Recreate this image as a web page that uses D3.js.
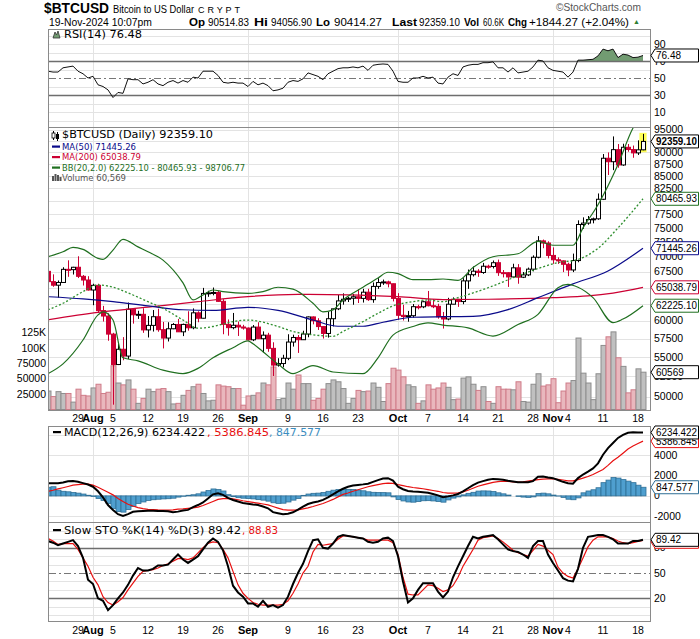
<!DOCTYPE html>
<html><head><meta charset="utf-8">
<script src="https://cdn.jsdelivr.net/npm/d3@7"></script>
<style>
html,body{margin:0;padding:0;background:#fff;}
svg{display:block;}
text{font-family:"Liberation Sans",Arial,sans-serif;}
.lg{font-family:"DejaVu Sans",Verdana,sans-serif;}
</style></head><body>
<svg id="c" width="700" height="639"></svg>
<script>
// ---------------- DATA ----------------
const startDate = "2024-07-23";
const open = [67580,65930,65370,65800,67910,67860,68250,66780,66190,64620,
65350,61500,60700,58120,54020,56040,55130,61710,60880,60950,
58710,59350,60600,58740,57570,58870,59480,58440,59490,59010,
61170,60380,64090,64180,64240,62880,59500,59030,59370,59120,
58970,57330,59110,57480,57970,56160,53950,54150,54840,57020,
57650,57340,58130,60570,60010,59180,58210,60310,61760,62950,
63200,63350,63580,63330,64280,63140,65180,65790,65890,65600,
63330,60810,60630,60750,62080,62060,62820,62220,62130,60580,
60270,62450,63190,62850,66050,67040,67610,67400,68420,68370,
69000,67370,67360,66680,68160,66640,67010,67940,69910,72720,
72340,70220,69490,69310,68740,67810,69360,75640,75900,76550,
76680,80370,88700,87960,90550,87280,91070,90580,89850,90514.83];
const high = [67800,67100,66120,68250,69400,68320,70080,66990,66800,65600,
65600,62200,61100,58300,57000,57700,62700,61800,61470,61850,
60700,61580,61780,59850,59800,59680,60270,59600,61400,61820,
61400,64950,64500,65000,64480,63210,60200,61150,59900,59430,
59050,59400,59800,58500,58300,56990,54850,55300,58100,58040,
57990,58590,60640,60640,60380,59210,61300,61780,63850,64100,
63550,63990,64750,64800,64800,65800,66480,66260,66080,65620,
64130,62370,61450,62480,62370,62970,64470,63200,62520,61300,
63420,63480,63270,66480,67880,68380,67940,68970,68670,69370,
69520,67800,67430,68830,68770,67480,68200,70230,73560,72950,
72650,71590,69900,69380,69000,70530,76400,76950,77200,76900,
81500,89600,89950,93480,91780,91850,91800,91450,92600,94056.90];
const low = [65450,65120,63440,65760,66700,67070,66500,65320,64530,62300,
61200,59900,57200,49050,53950,54580,54730,59600,60280,58300,
57650,58480,58450,56150,57100,58810,58430,57840,58600,58800,
59800,60350,63570,63800,62830,58100,57900,58800,57860,58750,
57220,57150,57430,55600,55700,52550,53750,53650,54590,56400,
55550,57320,57680,59500,58700,57500,57630,59200,61570,62380,
62780,62370,62630,62700,62950,62670,64800,65420,65030,62870,
60170,60050,59880,60460,61680,61860,62130,61860,60320,58900,
60080,62450,62050,62450,64800,66750,66700,67180,68000,68050,
66850,66600,65100,66500,65600,66500,66820,67580,69730,71450,
69720,68820,68800,67460,66800,67460,69080,74850,75600,75850,
76490,80220,85200,86200,86700,87100,90100,88800,89400,90414.27];
const close = [65930,65370,65800,67910,67860,68250,66780,66190,64620,65350,
61500,60700,58120,54020,56040,55130,61710,60880,60950,58710,
59350,60600,58740,57570,58870,59480,58440,59490,59010,61170,
60380,64090,64180,64240,62880,59500,59030,59370,59120,58970,
57330,59110,57480,57970,56160,53950,54150,54840,57020,57650,
57340,58130,60570,60010,59180,58210,60310,61760,62950,63200,
63350,63580,63330,64280,63140,65180,65790,65890,65600,63330,
60810,60630,60750,62080,62060,62820,62220,62130,60580,60270,
62450,63190,62850,66050,67040,67610,67400,68420,68370,69000,
67370,67360,66680,68160,66640,67010,67940,69910,72720,72340,
70220,69490,69310,68740,67810,69360,75640,75900,76550,76680,
80370,88700,87960,90550,87280,91070,90580,89850,90514.83,92359.10];
const volume = [30000,21000,29000,26000,26000,12000,33000,23000,22000,35000,
41000,26000,28000,71000,43000,40000,48000,33000,10000,18000,
33000,29000,33000,34000,29000,9000,10000,23000,31000,37000,
41000,26000,14000,15000,40000,38000,37000,34000,34000,7000,
22000,23000,27000,43000,40000,69000,16000,18000,43000,33000,
56000,42000,42000,15000,18000,33000,42000,48000,45000,34000,
10000,18000,31000,29000,30000,43000,36000,13000,42000,67000,
64000,53000,40000,37000,10000,14000,40000,33000,35000,43000,
36000,16000,17000,51000,53000,41000,31000,37000,13000,10000,
37000,33000,33000,32000,45000,13000,12000,41000,58000,38000,
40000,50000,11000,30000,43000,47000,116000,59000,43000,16000,
58000,104000,118000,126000,84000,70000,27000,32000,66000,60569];
const rsi = [58,57,57,62,63,64,58,55,50,52,42,
40,36,27,33,32,49,48,48,43,45,
48,43,41,45,47,44,47,45,51,50,
58,58,58,53,45,44,45,44,44,40,
46,42,44,41,35,36,38,45,47,46,
49,56,54,52,48,55,58,61,62,62,
63,62,64,59,65,66,66.5,66,58,46,
45,45,50,50,52,50,51,44,43,51,
55,53,63,65,66,66,68,68,69,62,
62,57,62,56,57,58,63,71,70,62,
59,58,57,51,57,71,71,71.5,72,76,
84,82,84,74,78,77,74,74.5,76.48];
const macd = [1230,1250,1250,1320,1430,1470,1380,1250,1120,900,450,
-150,-900,-1400,-1800,-1970,-1800,-1560,-1520,-1490,-1470,
-1470,-1480,-1480,-1520,-1600,-1550,-1450,-1380,-1100,-900,
-650,-250,150,260,100,-200,-400,-550,-700,-780,
-850,-900,-1050,-1220,-1600,-1700,-1800,-1750,-1620,-1350,
-1050,-800,-650,-550,-400,-150,150,450,700,900,
1020,1080,1130,1200,1380,1550,1700,1740,1500,900,
650,480,420,400,360,300,180,50,-130,-50,
50,180,450,750,1050,1300,1450,1580,1670,1640,
1580,1480,1420,1350,1330,1340,1450,1880,1900,1800,
1740,1560,1380,1250,1200,1750,2100,2390,2700,3200,
4050,4700,5200,5700,6000,6200,6250,6230,6234.422];
const signal = [440,550,680,800,920,1050,1110,1150,1150,1050,850,
600,350,100,-250,-550,-830,-1000,-1150,-1260,-1320,
-1350,-1380,-1390,-1400,-1380,-1300,-1280,-1230,-1180,-1100,
-950,-750,-550,-350,-280,-280,-300,-380,-480,-560,
-640,-720,-800,-890,-1050,-1200,-1350,-1400,-1400,-1380,
-1280,-1180,-1050,-900,-750,-550,-350,-100,150,280,
450,600,750,900,1000,1100,1200,1250,1220,1100,
1000,900,820,760,700,620,530,450,330,270,
260,300,400,550,750,950,1080,1200,1330,1400,
1440,1420,1380,1350,1380,1450,1530,1600,1650,1670,
1670,1620,1560,1480,1470,1600,1750,1900,2100,2350,
2600,3000,3450,3800,4200,4600,4900,5150,5386.845];
const hist = [850,900,560,450,400,330,270,180,60,-60,-250,
-450,-750,-1250,-1550,-1600,-1350,-1050,-750,-600,-450,
-380,-330,-300,-280,-230,-120,-40,60,110,200,
380,520,680,620,480,120,-80,-180,-230,-260,
-300,-370,-420,-520,-680,-740,-720,-600,-420,-250,
50,180,250,270,330,450,560,620,660,640,
620,560,500,400,350,330,320,300,-100,-350,
-500,-600,-620,-560,-480,-470,-500,-560,-620,-400,
-220,-100,100,250,350,470,490,480,420,300,
200,80,0,-50,-120,-150,-100,230,270,200,
80,-20,-150,-330,-380,-200,300,480,600,800,
1300,1550,1800,1750,1600,1450,1300,1050,847.577];
const stoK = [88,86,83,85,87,89,82,68,42,37,20,
17,6,12,20,27,36,47,56,53,53,
55,59,59,60,66,72,66,62,66,70,
78,86,91,87,77,58,35,27,22,14,
14,10,17,10,12,9,12,22,37,50,
61,76,89,90,80,79,85,93,95,94,
93,92,91,87,86,87,91,92,88,70,
40,15,20,30,38,38,38,28,21,28,
45,58,70,82,93,91,93,94,95,90,
84,78,76,75,72,68,82,88,88,72,
62,53,44,41,40,55,80,93,94,95,
95,93,90,85,85,85,88,88,89.42];
const stoD = [91,88,84,85,85,85,78,68,58,45,36,
22,15,12,16,21,30,38,46,52,53,
54,56,59,61,64,67,67,66,68,74,
80,85,87,86,78,68,52,36,26,20,
15,13,12,12,12,12,13,17,26,37,
50,58,75,84,83,84,85,90,94,94,
93,92,91,89,89,89,89,89,86,72,
45,25,24,24,30,36,35,32,28,30,
35,45,58,68,78,89,92,93,94,91,
87,82,77,74,72,70,77,84,82,77,
72,57,50,46,44,55,68,81,89,93,
93,93,91,88,86,85,86,87.5,88.83];
// sparse readings of smooth overlays: [day index from startDate, value]
const ma50 = [[0,63590],[7,63250],[13,62830],[20,62200],[27,61620],[33,61540],[40,61990],[43,61850],[46,61540],[53,60120],[58,59230],[63,59230],[67,59800],[73,60520],[79,60600],[85,60650],[92,61640],[98,63440],[105,65580],[112,67650],[119,71445.26]];
const ma200 = [[0,60150],[10,61230],[20,62000],[30,62830],[40,63600],[50,63950],[60,63880],[70,63600],[79,63150],[88,63200],[101,63450],[108,63700],[113,64150],[119,65038.79]];
const bbUpper = [[0,70000],[3,70840],[5,71590],[7,71240],[10,69720],[11,69550],[13,71130],[15,72990],[18,71680],[20,70840],[23,69430],[27,65730],[29,63090],[31,63850],[33,64620],[35,64370],[40,64110],[43,64370],[46,65050],[49,64750],[53,62590],[55,61300],[57,61610],[59,63090],[63,65050],[66,66520],[68,67440],[70,67220],[73,66240],[76,66240],[79,66350],[82,66130],[85,68200],[89,70000],[94,70500],[98,72650],[101,71960],[105,71960],[107,75020],[110,79330],[114,87380],[117,95400],[119,98706.77]];
const bbMid = [[0,61620],[3,62590],[7,64370],[10,65400],[12,65240],[17,63850],[20,62830],[23,61830],[27,60120],[30,58950],[33,59190],[37,59890],[40,60120],[46,59190],[49,58490],[53,58030],[57,57800],[59,58490],[63,59890],[66,61100],[69,62200],[73,62830],[76,63090],[79,62830],[82,63440],[88,64970],[95,67160],[102,69010],[106,69540],[110,71440],[114,75020],[119,80465.93]];
const bbLower = [[0,52850],[3,54110],[7,57300],[10,60870],[11,61300],[13,60120],[15,54900],[18,54500],[23,53290],[27,52850],[30,53520],[33,54900],[37,56250],[40,57190],[41,56790],[43,55700],[46,54090],[49,52850],[53,53890],[57,53060],[63,52850],[66,54900],[69,57980],[73,59190],[76,59700],[79,59400],[84,59000],[89,57850],[94,59480],[98,60950],[102,64970],[104,65500],[106,65050],[109,63440],[113,59760],[115,60260],[119,62225.10]];
// price axis labels (those fully hidden behind value tags in the reference are left out)
const priceTicks = d3.range(50000, 95001, 2500);
const priceTickLabels = priceTicks.filter(v => ![62500, 65000, 80000, 92500].includes(v));
const volTicks = [25000, 50000, 75000, 100000, 125000];
const volTickLabels = ["25000","50000","75000","100K","125K"];
const weekTicks = ["2024-07-29","2024-08-05","2024-08-12","2024-08-19","2024-08-26","2024-09-09","2024-09-16","2024-09-23","2024-10-07","2024-10-14","2024-10-21","2024-10-28","2024-11-04","2024-11-11","2024-11-18"];
const monthTicks = ["2024-08-01","2024-09-01","2024-10-01","2024-11-01"];
const monthLabels = ["Aug","Sep","Oct","Nov"];
const rsiTicks = [10,30,50,70,90];
const stoTicks = [20,50,80];
const macdTicks = [-2000,0,2000,4000];

// ---------------- LAYOUT ----------------
const svg = d3.select("#c");
const L = 49, R = 650, DAY = 864e5;
const parse = d3.utcParse("%Y-%m-%d");
const t0 = parse(startDate);
const dayAt = k => new Date(+t0 + k * DAY);
const x = d3.scaleUtc().domain([dayAt(0.2), dayAt(120.4)]).range([L, R]);
const N = close.length;
const xs = d3.range(N).map(k => x(dayAt(k)));

const P = {rsi:[29,127], main:[127,410], macd:[426,522], sto:[522,621]};
const yRsi = d3.scaleLinear().domain([0,100]).range([120.5,35.5]);
const yP = d3.scaleLog().domain([50000,95000]).range([396.7,129.7]);
const yV = d3.scaleLinear().domain([0,125000]).range([409.5,332.5]);
const yM = d3.scaleLinear().domain([-2000,4000]).range([516.2,455.2]);
const yS = d3.scaleLinear().domain([0,100]).range([615.2,530.9]);

const defs = svg.append("defs");
function clip(id, top, bot){
  defs.append("clipPath").attr("id",id).append("rect").attr("x",L).attr("y",top).attr("width",R-L).attr("height",bot-top);
  return `url(#${id})`;
}
const cRsi = clip("cr",P.rsi[0],P.rsi[1]), cMain = clip("cm",P.main[0],P.main[1]),
      cMacd = clip("cmd",P.macd[0],P.macd[1]), cSto = clip("cs",P.sto[0],P.sto[1]);

const GRID = "#e3e3e3";
function hline(g, y, stroke, w, dash){
  const yy = Math.round(y) + 0.5;
  const l = g.append("line").attr("x1",L).attr("x2",R).attr("y1",yy).attr("y2",yy)
    .attr("stroke",stroke).attr("stroke-width",w);
  if (dash) l.attr("stroke-dasharray",dash);
}
function vgrid(g, top, bot){
  monthTicks.forEach(d => {
    const xx = Math.round(x(parse(d))) + 0.5;
    g.append("line").attr("x1",xx).attr("x2",xx).attr("y1",top).attr("y2",bot).attr("stroke",GRID);
  });
}
function frame(top, bot){
  svg.append("rect").attr("x",L-0.5).attr("y",top+0.5).attr("width",R-L+1).attr("height",bot-top)
    .attr("fill","none").attr("stroke","#8a8a8a");
}
function axisLabel(xp, y, txt, opts={}){
  const t = svg.append("text").attr("x",xp).attr("y",y+3.6).text(txt)
    .style("font-size",(opts.size||10.5)+"px").attr("fill",opts.fill||"#000");
  if (opts.anchor) t.attr("text-anchor",opts.anchor);
  if (opts.bold) t.style("font-weight","bold");
  return t;
}
function tag(y, txt, color, bold){
  svg.append("path").attr("d",`M${R+1},${y} L${R+5},${y-6.5} H698.5 V${y+6.5} H${R+5} Z`)
    .attr("fill","#fff").attr("stroke",color).attr("stroke-width",1);
  const t = svg.append("text").attr("x",R+6).attr("y",y+3.6).text(txt)
    .style("font-size","10px").style("font-weight",bold?"bold":"normal");
  if (txt.length >= 7) t.attr("textLength", txt.length >= 8 ? 41 : 37).attr("lengthAdjust","spacingAndGlyphs");
}
function legend(xp, y, txt, fill, size, len){
  const t = svg.append("text").attr("class","lg").attr("x",xp).attr("y",y).text(txt)
    .style("font-size",size+"px").attr("fill",fill);
  if (len) t.attr("textLength",len).attr("lengthAdjust","spacingAndGlyphs");
  return t;
}
function dash(xp, y, color){
  svg.append("rect").attr("x",xp).attr("y",y-1).attr("width",8).attr("height",2.2).attr("fill",color);
}

// ---------------- HEADER ----------------
svg.append("text").attr("x",44).attr("y",12.5).text("$BTCUSD").style("font-size","14.5px").style("font-weight","bold")
  .attr("textLength",65).attr("lengthAdjust","spacingAndGlyphs");
svg.append("text").attr("x",113).attr("y",12.5).text("Bitcoin to US Dollar").style("font-size","11.5px")
  .attr("textLength",81).attr("lengthAdjust","spacingAndGlyphs");
svg.append("text").attr("x",198).attr("y",12.5).text("CRYPT").style("font-size","9px")
  .attr("textLength",42).attr("lengthAdjust","spacing");
svg.append("text").attr("x",556).attr("y",10.5).text("\u00A9StockCharts.com").style("font-size","10.5px").attr("fill","#555")
  .attr("textLength",85).attr("lengthAdjust","spacingAndGlyphs");
svg.append("text").attr("x",49).attr("y",25.5).text("19-Nov-2024 10:07pm").style("font-size","11px")
  .attr("textLength",103).attr("lengthAdjust","spacingAndGlyphs");
const quote = [[189,"Op",true,16],[208,"90514.83",false,41],[254,"Hi",true,14],[271,"94056.90",false,41],
  [316,"Lo",true,14],[334,"90414.27",false,48],[392,"Last",true,25],[419,"92359.10",false,41],
  [464,"Vol",true,15],[483,"60.6K",false,21],[508,"Chg",true,19],[529,"+1844.27 (+2.04%)",false,100]];
quote.forEach(q => svg.append("text").attr("x",q[0]).attr("y",25.5).text(q[1])
  .style("font-size", q[2] ? "11px" : "10.5px").style("font-weight", q[2] ? "bold" : "normal")
  .attr("textLength",q[3]).attr("lengthAdjust","spacingAndGlyphs"));
svg.append("text").attr("x",633).attr("y",24).text("\u25B2").style("font-size","7px").attr("fill","#2e7d32");

// ---------------- RSI PANEL ----------------
const gR = svg.append("g");
d3.range(0,101,10).forEach(v => { if (v!==30 && v!==50 && v!==70) hline(gR, yRsi(v), GRID, 1); });
vgrid(gR, P.rsi[0], P.rsi[1]);
defs.append("clipPath").attr("id","above70").append("rect").attr("x",L).attr("y",P.rsi[0]).attr("width",R-L).attr("height",yRsi(70)-P.rsi[0]);
const gRc = svg.append("g").attr("clip-path",cRsi);
gRc.append("g").attr("clip-path","url(#above70)").append("path")
  .datum(rsi).attr("fill","#729c72")
  .attr("d", d3.area().x((d,i)=>xs[i]).y0(yRsi(70)).y1(d=>yRsi(d)));
hline(gRc, yRsi(70), "#6e6e6e", 1.6);
hline(gRc, yRsi(30), "#6e6e6e", 1.6);
hline(gRc, yRsi(50), "#777", 1, "7,3,2,3");
gRc.append("path").datum(rsi).attr("fill","none").attr("stroke","#111").attr("stroke-width",1)
  .attr("d", d3.line().x((d,i)=>xs[i]).y(d=>yRsi(d)));
frame(P.rsi[0], P.rsi[1]);
rsiTicks.forEach(v => axisLabel(654, yRsi(v), String(v)));
tag(yRsi(rsi[N-1]), "76.48", "#000", false);
svg.append("path").attr("d","M53,38 L55,32 L56.5,35 L58,31 L60,38 Z").attr("fill","#729c72").attr("stroke","#333").attr("stroke-width",0.8);
legend(64, 38, "RSI(14) 76.48", "#000", 10.5, 78);

// ---------------- MAIN PANEL ----------------
const gM = svg.append("g");
priceTicks.forEach(v => hline(gM, yP(v), GRID, 1));
vgrid(gM, P.main[0], P.main[1]);
const gMc = svg.append("g").attr("clip-path",cMain);
// volume
const down = i => i>0 && close[i]<close[i-1];
gMc.selectAll("rect.vol").data(volume).join("rect").attr("class","vol")
  .attr("x",(d,i)=>Math.round(xs[i])-2).attr("width",5).attr("y",d=>yV(d)).attr("height",d=>yV(0)-yV(d))
  .attr("fill",(d,i)=> down(i) ? "#e9b7bd" : "#c0c0c0")
  .attr("stroke",(d,i)=> down(i) ? "#cf7c89" : "#8d8d8d").attr("stroke-width",1);
// last-bar highlight
const lastI = N-1;
gMc.append("rect").attr("x",xs[lastI]-3.6).attr("width",7.2).attr("y",yP(high[lastI])-1)
  .attr("height",yP(low[lastI])-yP(high[lastI])+3).attr("fill","#ffff55");
// candles
const up = i => close[i] >= open[i];
gMc.selectAll("line.wick").data(close).join("line").attr("class","wick")
  .attr("x1",(d,i)=>Math.round(xs[i])+0.5).attr("x2",(d,i)=>Math.round(xs[i])+0.5)
  .attr("y1",(d,i)=>yP(high[i])).attr("y2",(d,i)=>yP(low[i]))
  .attr("stroke",(d,i)=>up(i)?"#000":"#cc0033").attr("stroke-width",1);
gMc.selectAll("rect.body").data(close).join("rect").attr("class","body")
  .attr("x",(d,i)=>Math.round(xs[i])-1.5).attr("width",4)
  .attr("y",(d,i)=>yP(Math.max(open[i],close[i])))
  .attr("height",(d,i)=>Math.max(1,yP(Math.min(open[i],close[i]))-yP(Math.max(open[i],close[i]))))
  .attr("fill",(d,i)=>up(i)?"#fff":"#cc0033")
  .attr("stroke",(d,i)=>up(i)?"#000":"#cc0033").attr("stroke-width",1);
// overlays
const sline = d3.line().x(d=>x(dayAt(d[0]))).y(d=>yP(d[1])).curve(d3.curveMonotoneX);
gMc.append("path").datum(ma200).attr("fill","none").attr("stroke","#cc0033").attr("stroke-width",1.2).attr("d",sline);
gMc.append("path").datum(ma50).attr("fill","none").attr("stroke","#0a0a8a").attr("stroke-width",1.2).attr("d",sline);
gMc.append("path").datum(bbMid).attr("fill","none").attr("stroke","#2f8f2f").attr("stroke-width",1.3).attr("stroke-dasharray","2,2").attr("d",sline);
gMc.append("path").datum(bbUpper).attr("fill","none").attr("stroke","#1f6f1f").attr("stroke-width",1.2).attr("d",sline);
gMc.append("path").datum(bbLower).attr("fill","none").attr("stroke","#1f6f1f").attr("stroke-width",1.2).attr("d",sline);
frame(P.main[0], P.main[1]);
priceTickLabels.forEach(v => axisLabel(654, yP(v), String(v)));
volTicks.forEach((v,i) => axisLabel(46, yV(v), volTickLabels[i], {anchor:"end"}));
tag(yV(volume[lastI]), "60569", "#000", false);
tag(yP(62225.10), "62225.10", "#1f6f1f", false);
tag(yP(65038.79), "65038.79", "#cc0033", false);
tag(yP(71445.26), "71445.26", "#0a0a8a", false);
tag(yP(80465.93), "80465.93", "#1f6f1f", false);
tag(yP(close[lastI]), "92359.10", "#000", true);
// legend
svg.append("path").attr("d","M53.5,131 V140 M57.5,132 V141").attr("stroke","#000");
svg.append("rect").attr("x",52).attr("y",133).attr("width",3).attr("height",5).attr("fill","#fff").attr("stroke","#000").attr("stroke-width",0.8);
svg.append("rect").attr("x",56).attr("y",134).attr("width",3).attr("height",5).attr("fill","#000");
legend(62, 137.5, "$BTCUSD (Daily) 92359.10", "#000", 10.5, 151);
dash(52, 146.5, "#0a0a8a"); legend(62, 149.5, "MA(50) 71445.26", "#0a0a8a", 8.5, 74);
dash(52, 157, "#cc0033"); legend(62, 160, "MA(200) 65038.79", "#cc0033", 8.5, 79);
dash(52, 167.5, "#1f6f1f"); legend(62, 170.5, "BB(20,2.0) 62225.10 - 80465.93 - 98706.77", "#1f6f1f", 8.5, 183);
[[52,176,5],[54.5,174,7],[57,175,6],[59.5,177,4]].forEach(b=>svg.append("rect").attr("x",b[0]).attr("y",b[1]).attr("width",2).attr("height",b[2]).attr("fill","#555"));
legend(62, 181, "Volume 60,569", "#555", 8.5, 64);

// x labels
function xLabels(y){
  weekTicks.forEach(d => axisLabel(x(parse(d)), y, String(parse(d).getUTCDate()), {anchor:"middle"}));
  monthTicks.forEach((d,i) => axisLabel(x(parse(d)), y, monthLabels[i], {anchor:"middle", bold:true, size:11}));
}
xLabels(418);

// ---------------- MACD PANEL ----------------
const gD = svg.append("g");
[-2000,0,2000,4000,6000].forEach(v => hline(gD, yM(v), GRID, 1));
vgrid(gD, P.macd[0], P.macd[1]);
const gDc = svg.append("g").attr("clip-path",cMacd);
gDc.selectAll("rect.h").data(hist).join("rect").attr("class","h")
  .attr("x",(d,i)=>Math.round(xs[i])-2).attr("width",5)
  .attr("y",d=>Math.min(yM(d),yM(0))).attr("height",d=>Math.abs(yM(d)-yM(0)))
  .attr("fill","#4f9fcf").attr("stroke","#2f6f96").attr("stroke-width",0.8);
gDc.append("path").datum(signal).attr("fill","none").attr("stroke","#e81010").attr("stroke-width",1.2)
  .attr("d", d3.line().x((d,i)=>xs[i]).y(d=>yM(d)));
gDc.append("path").datum(macd).attr("fill","none").attr("stroke","#000").attr("stroke-width",2)
  .attr("d", d3.line().x((d,i)=>xs[i]).y(d=>yM(d)));
frame(P.macd[0], P.macd[1]);
macdTicks.forEach(v => axisLabel(654, yM(v), String(v)));
tag(yM(hist[N-1]), "847.577", "#2f6f96", false);
tag(yM(signal[N-1]), "5386.845", "#e81010", false);
tag(yM(macd[N-1]), "6234.422", "#000", false);
dash(53, 432, "#000");
legend(64, 435.5, "MACD(12,26,9) 6234.422", "#000", 10.5, 141);
legend(207, 435.5, ", 5386.845", "#e81010", 10.5, 62);
legend(269, 435.5, ", 847.577", "#3a8dc0", 10.5, 52);

// ---------------- STO PANEL ----------------
const gS = svg.append("g");
d3.range(0,101,10).forEach(v => { if (v!==20 && v!==50 && v!==80) hline(gS, yS(v), GRID, 1); });
vgrid(gS, P.sto[0], P.sto[1]);
const gSc = svg.append("g").attr("clip-path",cSto);
hline(gSc, yS(80), "#6e6e6e", 1.6);
hline(gSc, yS(20), "#6e6e6e", 1.6);
hline(gSc, yS(50), "#777", 1, "7,3,2,3");
gSc.append("path").datum(stoD).attr("fill","none").attr("stroke","#e81010").attr("stroke-width",1.2)
  .attr("d", d3.line().x((d,i)=>xs[i]).y(d=>yS(d)));
gSc.append("path").datum(stoK).attr("fill","none").attr("stroke","#000").attr("stroke-width",2)
  .attr("d", d3.line().x((d,i)=>xs[i]).y(d=>yS(d)));
frame(P.sto[0], P.sto[1]);
stoTicks.forEach(v => axisLabel(654, yS(v), String(v)));
tag(yS(stoD[N-1])+1.5, "88.83", "#e81010", false);
tag(yS(stoK[N-1]), "89.42", "#000", false);
dash(53, 530, "#000");
legend(64, 533.5, "Slow STO %K(14) %D(3) 89.42", "#000", 10.5, 177);
legend(242, 533.5, ", 88.83", "#e81010", 10.5, 36);
xLabels(630);
</script></body></html>
